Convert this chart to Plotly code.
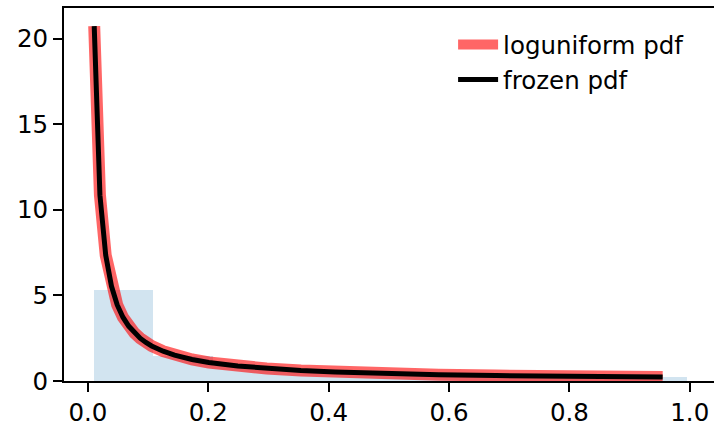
import plotly.graph_objects as go

# histogram of samples (density), bin edges and heights
bin_edges = [0.0101, 0.1086, 0.2071, 0.3056, 0.4041, 0.5026, 0.6011, 0.6996, 0.7981, 0.8966, 0.9951]
bin_heights = [5.30, 1.45, 0.88, 0.62, 0.52, 0.40, 0.35, 0.29, 0.27, 0.24]

# pdf curve
pdf_x = [0.0105, 0.0200, 0.0296, 0.0391, 0.0486, 0.0582, 0.0677, 0.0773, 0.0868, 0.0964,
         0.1059, 0.125, 0.144, 0.173, 0.201, 0.249, 0.297, 0.354, 0.411, 0.488,
         0.583, 0.678, 0.774, 0.869, 0.955]
pdf_y = [20.74, 10.86, 7.35, 5.55, 4.46, 3.73, 3.21, 2.81, 2.50, 2.25,
         2.05, 1.74, 1.51, 1.26, 1.08, 0.872, 0.731, 0.613, 0.528, 0.445,
         0.372, 0.320, 0.281, 0.250, 0.227]

y_ticks = [0, 5, 10, 15, 20]
x_ticks = [0.0, 0.2, 0.4, 0.6, 0.8, 1.0]

centers = [(a + b) / 2 for a, b in zip(bin_edges[:-1], bin_edges[1:])]
widths = [b - a for a, b in zip(bin_edges[:-1], bin_edges[1:])]

fig = go.Figure()
fig.add_bar(x=centers, y=bin_heights, width=widths, showlegend=False,
            marker=dict(color="rgba(31,119,180,0.2)", line_width=0))
fig.add_scatter(x=pdf_x, y=pdf_y, mode="lines", name="loguniform pdf",
                line=dict(color="rgba(255,0,0,0.6)", width=12))
fig.add_scatter(x=pdf_x, y=pdf_y, mode="lines", name="frozen pdf",
                line=dict(color="black", width=5))

font = dict(family="DejaVu Sans", size=24.5, color="black")
fig.update_layout(
    width=714, height=427,
    margin=dict(l=64, r=0, t=8, b=44),
    plot_bgcolor="white", paper_bgcolor="white",
    font=font, bargap=0,
    legend=dict(x=0.5986, y=0.962, xanchor="left", yanchor="top", itemwidth=40,
                bgcolor="rgba(0,0,0,0)", font=font),
)
fig.update_xaxes(range=[-0.0397, 1.0403], tickvals=x_ticks,
                 ticktext=[f"{v:.1f}" for v in x_ticks],
                 showgrid=False, zeroline=False, showline=True, linecolor="black",
                 linewidth=2, mirror=True, ticks="outside", ticklen=9, tickwidth=2,
                 tickcolor="black")
fig.update_yaxes(range=[0, 21.8], tickvals=y_ticks, showgrid=False, zeroline=False,
                 showline=True, linecolor="black", linewidth=2, ticks="outside",
                 ticklen=9, tickwidth=2, tickcolor="black")

# drop the page's default body margin so the figure sits at the top-left corner
fig.write_html("out.html", config={"displayModeBar": False},
               post_script="document.body.style.margin='0';")
